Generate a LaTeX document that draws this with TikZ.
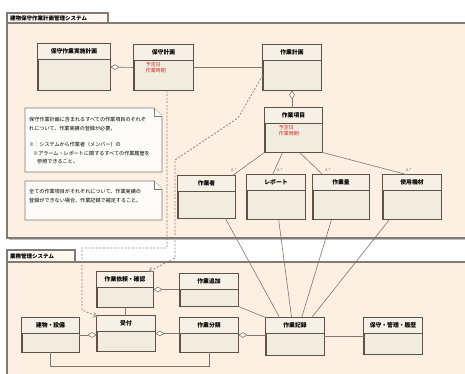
\documentclass[tikz,border=0pt]{standalone}
\usepackage{fontspec}
\setmainfont{Noto Sans CJK JP}
\usetikzlibrary{arrows.meta,fit}
\definecolor{pkgfill}{HTML}{FDEFE1}
\definecolor{pkgline}{HTML}{7F7B76}
\definecolor{clsline}{HTML}{5E5246}
\definecolor{clsfill}{HTML}{F2EBDF}
\definecolor{clshead}{HTML}{F6F0E6}
\definecolor{notefill}{HTML}{FCFBF9}
\definecolor{redtxt}{HTML}{D0302A}
\definecolor{dashc}{HTML}{8A8580}
\tikzset{
  pkg/.style={draw=pkgline, line width=1.1pt, fill=pkgfill},
  pkgshadow/.style={fill=black!25},
  pkgtab/.style={draw=pkgline, line width=1.1pt, fill=pkgfill!50!white},
  pkglabel/.style={anchor=west, inner sep=0pt, font=\fontsize{5.5}{6}\selectfont\bfseries},
  clsshadow/.style={fill=black!25},
  cls/.style={draw=clsline, line width=0.8pt, fill=clsfill, inner sep=0pt},
  clshdr/.style={fill=clshead},
  clsdiv/.style={draw=clsline, line width=0.6pt},
  clstitle/.style={inner sep=0pt, font=\fontsize{5.8}{7}\selectfont\bfseries},
  redtext/.style={inner sep=0pt, anchor=north west, align=left, text=redtxt, font=\fontsize{5}{6}\selectfont},
  assoc/.style={draw=clsline!80, line width=0.6pt},
  aggr/.style={assoc, {Diamond[fill=white,length=9pt,width=5.5pt]}-},
  dep/.style={draw=dashc, line width=0.7pt, dash pattern=on 2pt off 1.6pt, -{Straight Barb[length=4pt,width=5pt]}},
  notebox/.style={draw=pkgline, line width=0.8pt, fill=notefill},
  notetext/.style={inner sep=0pt, anchor=north west, align=left, font=\fontsize{5.1}{8.6}\selectfont},
  mult/.style={inner sep=0pt, font=\fontsize{3.6}{4}\selectfont, text=black!70}
}
\newcommand\umlcls[6]{%
  \coordinate (#1-a) at (#2,#3);
  \coordinate (#1-b) at (#4,#5);
  \fill[clsshadow] ([xshift=1.2pt,yshift=-1.2pt]#1-a) rectangle ([xshift=1.2pt,yshift=-1.2pt]#1-b);
  \node[cls, fit=(#1-a)(#1-b)] (#1) {};
  \fill[clshdr] (#1.north west) rectangle ([yshift=-16pt]#1.north east);
  \draw[cls, fill=none] (#1.north west) rectangle (#1.south east);
  \draw[clsdiv] ([yshift=-16pt]#1.north west) -- ([yshift=-16pt]#1.north east);
  \node[clstitle] at ([yshift=-8pt]#1.north) {#6};
}
\begin{document}
\begin{tikzpicture}[x=1pt,y=-1pt]
\useasboundingbox (0,0) rectangle (465,374);
\fill[white] (0,0) rectangle (465,374);
\clip (0,0) rectangle (465,374);
% packages
\draw[pkgtab] (7,13) rectangle (108,23);
\fill[pkgshadow] (8.5,24.5) rectangle (479.5,239.5);
\draw[pkg] (7,23) rectangle (478,238);
\node[pkglabel] (p1) at (10,18) {建物保守作業計画管理システム};
\draw[pkgtab] (7,250) rectangle (75,262);
\fill[pkgshadow] (8.5,263.5) rectangle (479.5,386.5);
\draw[pkg] (7,262) rectangle (478,385);
\node[pkglabel] (p2) at (10,256) {業務管理システム};
% notes
\draw[notebox] (25,108) -- (154,108) -- (162,116) -- (162,172) -- (25,172) -- cycle;
\draw[notebox] (154,108) -- (154,116) -- (162,116);
\node[notetext] (n1a) at (29,117) {保守作業計画に含まれるすべての作業項目のそれぞ\\れについて、作業実績の登録が必要。};
\node[notetext] (n1b) at (29,142) {※：システムから作業者（メンバー）の\\\hspace*{4pt}※アラーム・レポートに関するすべての作業履歴を\\\hspace*{8pt}参照できること。};
\draw[notebox] (25,181) -- (154,181) -- (162,189) -- (162,220) -- (25,220) -- cycle;
\draw[notebox] (154,181) -- (154,189) -- (162,189);
\node[notetext] (n2) at (29,189) {全ての作業項目がそれぞれについて、作業実績の\\登録ができない場合、作業記録で補足すること。};
% classes (top)
\umlcls{c1}{38}{44}{110}{90}{保守作業実施計画}
\umlcls{c2}{134}{45}{193}{90}{保守計画}
\umlcls{c3}{263}{45}{321}{90}{作業計画}
\umlcls{c4}{265}{108}{322}{152}{作業項目}
\umlcls{ra}{178}{176}{235}{218}{作業者}
\umlcls{rb}{247}{175}{305}{219}{レポート}
\umlcls{rc}{313}{175}{369}{219}{作業量}
\umlcls{rd}{383}{175}{441}{219}{使用機材}
\node[redtext] at ([xshift=12pt,yshift=-18pt]c2.north west) {予定日\\作業時期};
\node[redtext] at ([xshift=14pt,yshift=-18pt]c4.north west) {予定日\\作業時期};
% classes (bottom)
\umlcls{ba}{97}{272}{153}{307}{作業依頼・確認}
\umlcls{bb}{180}{274}{238}{306}{作業追加}
\umlcls{bc}{97}{316}{155}{351}{受付}
\umlcls{bd}{22}{318}{79}{352}{建物・設備}
\umlcls{be}{180}{318}{238}{352}{作業分類}
\umlcls{bf}{266}{318}{324}{355}{作業記録}
\umlcls{bg}{364}{318}{422}{354}{保守・管理・履歴}
% associations (top)
\draw[aggr] (c1.east) -- (c2.west);
\draw[assoc] (c2.east) -- (c3.west);
\draw[aggr] (c3.south) -- (c3.south |- c4.north);
\draw[assoc] (c4.south west) -- ([xshift=-3pt]ra.north east);
\draw[assoc] ([xshift=18pt]c4.south west) -- ([xshift=26pt]rb.north west);
\draw[assoc] ([xshift=35pt]c4.south west) -- ([xshift=10pt]rc.north west);
\draw[assoc] (c4.south east) -- ([xshift=24pt]rd.north west);
\node[mult] at (234,170) {0..*};
\node[mult] at (280,170) {0..*};
\node[mult] at (328,170) {0..*};
\node[mult] at (409,170) {0..*};
% lines to 作業記録
\draw[assoc] ([xshift=-10pt]ra.south east) -- ([xshift=14pt]bf.north west);
\draw[assoc] ([xshift=32pt]rb.south west) -- ([xshift=26pt]bf.north west);
\draw[assoc] ([xshift=19pt]rc.south west) -- ([xshift=36pt]bf.north west);
\draw[assoc] ([xshift=7pt]rd.south west) -- ([xshift=46pt]bf.north west);
% associations (bottom)
\draw[aggr] (ba.east) -- (ba.east -| bb.west);
\draw[assoc] (ba.south) -- (ba.south |- bc.north);
\draw[assoc, -{Diamond[fill=white,length=9pt,width=5.5pt]}] (bd.east) -- (bd.east -| bc.west);
\draw[aggr] (bc.east) -- (bc.east -| be.west);
\draw[assoc] (bd.south) -- ++(0,14) -| (be.south);
\draw[aggr] (be.east) -- (be.east -| bf.west);
\draw[assoc] (bf.east) -- (bf.east -| bg.west);
\draw[assoc] (bb.south east) -- (bf.north west);
% dependencies
\coordinate (d1) at (167,248);
\coordinate (d2) at (82,248);
\coordinate (d3) at (82,310);
\draw[dep] ([xshift=3.5pt]c2.south) -- (d1) -- (d2) -- (d3) -- ([xshift=1pt,yshift=-1pt]bc.north west);
\coordinate (e1) at (238,118);
\coordinate (e2) at (175,160);
\coordinate (e3) at (175,258);
\draw[dep] ([yshift=-8pt]c3.west) -- (e1) -- (e2) -- (e3) -- ([xshift=-5pt]ba.north east);
\end{tikzpicture}
\end{document}
